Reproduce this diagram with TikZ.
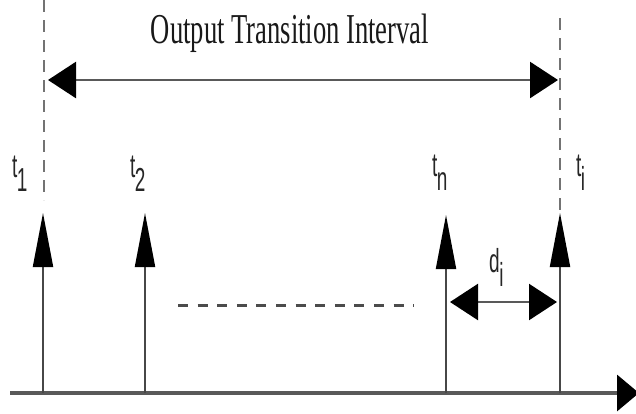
\documentclass[tikz,border=0pt]{standalone}
\usepackage{fontspec}
\setmainfont{Liberation Serif}
\newfontfamily\labfont{Liberation Sans}
\usetikzlibrary{arrows.meta}
\tikzset{
  vtip/.tip={Triangle[length=54pt,width=20pt,color=black]},
  htip/.tip={Triangle[length=28pt,width=36pt,color=black]},
  axtip/.tip={Triangle[length=22pt,width=36pt,color=black]},
  vline/.style={draw=black!72, line width=2pt, -vtip},
  guide/.style={draw=black!55, line width=1.6pt, dash pattern=on 12pt off 8pt},
  span/.style={draw=black!65, line width=2.6pt, htip-htip},
  lab/.style={inner sep=0pt, anchor=base west, text=black!85, font=\labfont\fontsize{19}{19}\selectfont},
}
\newcommand{\tl}[2]{\scalebox{1}[1.75]{#1\kern-0.5pt\raisebox{-8pt}{#2}}}
\begin{document}
\begin{tikzpicture}[x=1pt,y=-1pt]
\useasboundingbox (0,0) rectangle (636,413);
% title
\node[inner sep=0pt, anchor=base, text=black!90, font=\fontsize{26.6}{26.6}\selectfont] (title) at (290,43) {\scalebox{1}[1.6]{Output Transition Interval}};
% guides
\coordinate (g1t) at (44,0);   \coordinate (g1b) at (44,200);
\coordinate (g2t) at (560,18); \coordinate (g2b) at (560,210);
\draw[guide] (g1t) -- (g1b);
\draw[guide] (g2t) -- (g2b);
% top span arrow
\coordinate (sl) at (48,80); \coordinate (sr) at (558,80);
\draw[span] (sl) -- (sr);
% axis
\coordinate (ax0) at (10,393); \coordinate (ax1) at (639,393);
\draw[draw=black!65, line width=3.5pt, -axtip] (ax0) -- (ax1);
% vertical arrows
\coordinate (b1) at (43,393);  \coordinate (a1) at (43,213);
\coordinate (b2) at (145,393); \coordinate (a2) at (145,213);
\coordinate (bn) at (446,393); \coordinate (an) at (446,215);
\coordinate (bi) at (560,393); \coordinate (ai) at (560,213);
\draw[vline] (b1) -- (a1);
\draw[vline] (b2) -- (a2);
\draw[vline] (bn) -- (an);
\draw[vline] (bi) -- (ai);
% dashed middle line
\coordinate (m0) at (178,305); \coordinate (m1) at (414,305);
\draw[draw=black!70, line width=3pt, dash pattern=on 10pt off 9.6pt] (m0) -- (m1);
% d_i arrow
\coordinate (dl) at (450,302); \coordinate (dr) at (557,302);
\draw[span, line width=2.4pt] (dl) -- (dr);
% labels
\node[lab] (t1) at (12,177) {\tl{t}{1}};
\node[lab] (t2) at (130,177) {\tl{t}{2}};
\node[lab] (tn) at (432,176) {\tl{t}{n}};
\node[lab] (ti) at (576,176) {\tl{t}{i}};
\node[lab] (di) at (489,272) {\tl{d}{i}};
\end{tikzpicture}
\end{document}
